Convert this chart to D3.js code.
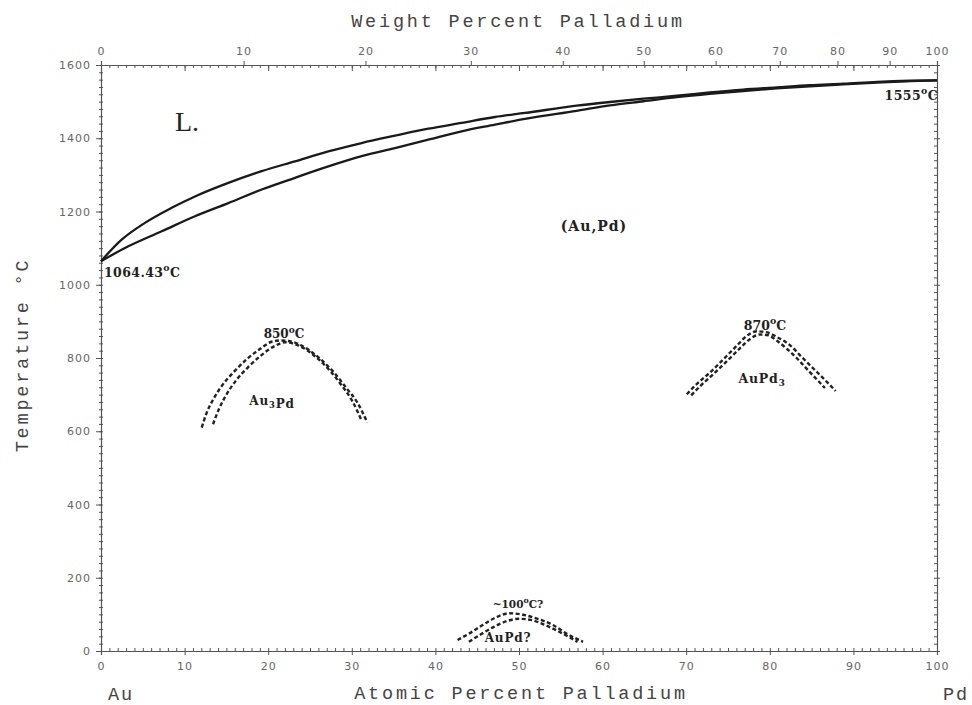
<!DOCTYPE html>
<html><head><meta charset="utf-8">
<script src="https://cdn.jsdelivr.net/npm/d3@7/dist/d3.min.js"></script>
<style>body{margin:0;background:#fff}</style></head>
<body>
<svg id="chart" width="972" height="705"></svg>
<script>
// ---- data (atomic % Pd, temperature °C) ----
const liquidusX = [0,2.47,5.26,8.45,11.24,15.23,19.22,23.2,27.19,31.18,35.17,39.15,43.14,47.13,50.72,56.9,60.9,64.9,68.9,72.8,76.8,80.8,84.8,88.8,92.8,96.8,100];
const liquidusT = [1064.43,1123,1169,1210,1241,1278,1310,1337,1364,1387,1407,1426,1442,1458,1469,1489,1499,1508,1516,1525,1533,1539,1545,1549,1554,1557,1558];
const solidusX = [0,3.27,7.26,11.24,15.23,19.22,23.2,27.19,31.18,35.17,39.15,43.14,47.13,50.72,56.9,60.9,64.9,68.9,72.8,76.8,80.8,84.8,88.8,92.8,96.8,100];
const solidusT = [1064.43,1105,1146,1187,1223,1260,1292,1323,1351,1373,1396,1419,1437,1453,1475,1490,1501,1512,1521,1529,1536,1542,1547,1552,1556,1558];

const au3pdOuterX = [12.05,12.65,13.45,14.45,15.85,17.45,19.05,20.25,21.45,23.05,24.65,26.25,27.85,29.45,30.65,31.85];
const au3pdOuterT = [610,651,688,724,761,797,825,843,848,843,825,797,761,715,679,624];
const au3pdInnerX = [13.4,14.1,15.0,16.2,17.6,19.2,20.8,22.0,23.2,24.6,26.0,27.4,28.8,30.0,31.2];
const au3pdInnerT = [619,660,700,740,775,808,833,843,838,822,797,765,725,685,628];

const aupd3OuterX = [70.07,71.27,72.87,74.47,76.07,77.27,78.47,79.67,80.87,82.47,83.67,85.27,86.47,87.87];
const aupd3OuterT = [701,729,761,797,834,861,873,870,857,834,806,770,743,710];
const aupd3InnerX = [70.6,71.8,73.3,74.9,76.5,77.7,78.8,79.8,80.8,82.0,83.2,84.6,85.6,86.6];
const aupd3InnerT = [698,726,757,792,828,853,864,862,848,826,800,766,742,718];

const aupdOuterX = [42.65,44.06,45.66,47.26,48.86,50.46,52.06,54.06,55.66,57.66];
const aupdOuterT = [30,48,71,92,103,99,89,71,48,25];
const aupdInnerX = [44.0,45.4,47.0,48.6,50.0,51.4,53.0,54.6,56.0,57.0];
const aupdInnerT = [25,45,66,82,88,85,72,55,38,25];

const atomicTicks = [0,10,20,30,40,50,60,70,80,90,100];
const weightTicks = [0,10,20,30,40,50,60,70,80,90,100];
const tempTicks = [0,200,400,600,800,1000,1200,1400,1600];

const M_AU = 196.97, M_PD = 106.42;
function wtToAt(w){ if(w<=0) return 0; if(w>=100) return 100; const a=w/M_PD, b=(100-w)/M_AU; return 100*a/(a+b); }

// ---- layout ----
const svg = d3.select("#chart");
const x = d3.scaleLinear().domain([0,100]).range([101,937]);
const y = d3.scaleLinear().domain([0,1600]).range([651,65]);
const axisColor = "#555";
const labelFont = "'DejaVu Sans', sans-serif";
const titleFont = "'Liberation Mono', 'DejaVu Sans Mono', monospace";
const annFont = "'DejaVu Serif', serif";

function styleAxis(g){
  g.selectAll("path.domain").attr("stroke",axisColor).attr("stroke-width",1.2);
  g.selectAll(".tick line").attr("stroke",axisColor).attr("stroke-width",1);
  g.selectAll(".tick text").attr("fill","#666").attr("font-family",labelFont).attr("font-size",11).attr("letter-spacing",1);
}

// bottom axis (atomic)
const gb = svg.append("g").attr("transform",`translate(0,${y(0)})`)
  .call(d3.axisBottom(x).tickValues(atomicTicks).tickSize(4).tickPadding(7).tickFormat(d3.format("d")));
styleAxis(gb);
const gbm = svg.append("g").attr("transform",`translate(0,${y(0)})`)
  .call(d3.axisTop(x).tickValues(d3.range(0,101,1)).tickSize(3).tickFormat(""));
gbm.select("path.domain").remove(); styleAxis(gbm);

// top axis (weight labels; atomic inward ticks)
const gt = svg.append("g").attr("transform",`translate(0,${y(1600)})`)
  .call(d3.axisTop(x).tickValues(weightTicks.map(wtToAt)).tickSize(4).tickPadding(6)
    .tickFormat((d,i)=>weightTicks[i]));
styleAxis(gt);
const gtm = svg.append("g").attr("transform",`translate(0,${y(1600)})`)
  .call(d3.axisBottom(x).tickValues(d3.range(0,101,1)).tickSize(3).tickFormat(""));
gtm.select("path.domain").remove(); styleAxis(gtm);
const gtM = svg.append("g").attr("transform",`translate(0,${y(1600)})`)
  .call(d3.axisBottom(x).tickValues(atomicTicks).tickSize(6).tickFormat(""));
gtM.select("path.domain").remove(); styleAxis(gtM);

// left axis
const gl = svg.append("g").attr("transform",`translate(${x(0)},0)`)
  .call(d3.axisLeft(y).tickValues(tempTicks).tickSize(5).tickPadding(5).tickFormat(d3.format("d")));
styleAxis(gl);
const glm1 = svg.append("g").attr("transform",`translate(${x(0)},0)`)
  .call(d3.axisLeft(y).tickValues(d3.range(0,1601,20)).tickSize(2).tickFormat(""));
glm1.select("path.domain").remove(); styleAxis(glm1);
const glm2 = svg.append("g").attr("transform",`translate(${x(0)},0)`)
  .call(d3.axisRight(y).tickValues(d3.range(0,1601,20)).tickSize(2).tickFormat(""));
glm2.select("path.domain").remove(); styleAxis(glm2);

// right axis
const gr = svg.append("g").attr("transform",`translate(${x(100)},0)`)
  .call(d3.axisLeft(y).tickValues(d3.range(0,1601,20)).tickSize(3).tickFormat(""));
styleAxis(gr);
const grM = svg.append("g").attr("transform",`translate(${x(100)},0)`)
  .call(d3.axisRight(y).tickValues(tempTicks).tickSize(3).tickFormat(""));
grM.select("path.domain").remove(); styleAxis(grM);

// ---- curves ----
const line = d3.line().x(d=>x(d[0])).y(d=>y(d[1])).curve(d3.curveMonotoneX);
function pts(xs,ts){ return xs.map((v,i)=>[v,ts[i]]); }

svg.append("path").attr("d",line(pts(liquidusX,liquidusT)))
  .attr("fill","none").attr("stroke","#1a1a1a").attr("stroke-width",2.3);
svg.append("path").attr("d",line(pts(solidusX,solidusT)))
  .attr("fill","none").attr("stroke","#1a1a1a").attr("stroke-width",2.3);

const domes = [
  [au3pdOuterX,au3pdOuterT],[au3pdInnerX,au3pdInnerT],
  [aupd3OuterX,aupd3OuterT],[aupd3InnerX,aupd3InnerT],
  [aupdOuterX,aupdOuterT],[aupdInnerX,aupdInnerT]
];
domes.forEach(([xs,ts])=>{
  svg.append("path").attr("d",line(pts(xs,ts)))
    .attr("fill","none").attr("stroke","#222").attr("stroke-width",2.4)
    .attr("stroke-dasharray","4,2.5");
});

// ---- titles ----
svg.append("text").attr("x",518).attr("y",27).attr("text-anchor","middle")
  .attr("font-family",titleFont).attr("font-size",18.5).attr("letter-spacing",2.8)
  .attr("fill","#444").text("Weight Percent Palladium");
svg.append("text").attr("x",521).attr("y",699).attr("text-anchor","middle")
  .attr("font-family",titleFont).attr("font-size",18.5).attr("letter-spacing",2.8)
  .attr("fill","#444").text("Atomic Percent Palladium");
svg.append("text").attr("transform","translate(28,355) rotate(-90)").attr("text-anchor","middle")
  .attr("font-family",titleFont).attr("font-size",18.5).attr("letter-spacing",2.8)
  .attr("fill","#444").text("Temperature °C");
svg.append("text").attr("x",108).attr("y",700)
  .attr("font-family",titleFont).attr("font-size",18.5).attr("letter-spacing",2)
  .attr("fill","#444").text("Au");
svg.append("text").attr("x",943).attr("y",700)
  .attr("font-family",titleFont).attr("font-size",18.5).attr("letter-spacing",2)
  .attr("fill","#444").text("Pd");

// ---- annotations ----
svg.append("text").attr("x",175).attr("y",131)
  .attr("font-family","'Liberation Serif', serif").attr("font-size",28)
  .attr("fill","#222").text("L.");

function degLabel(xp,yp,num,size,anchor){
  const t = svg.append("text").attr("x",xp).attr("y",yp).attr("text-anchor",anchor||"start")
    .attr("font-family",annFont).attr("font-weight","bold").attr("font-size",size)
    .attr("fill","#222");
  t.append("tspan").text(num);
  t.append("tspan").attr("dy",-size*0.45).attr("font-size",size*0.75).text("o");
  t.append("tspan").attr("dy",size*0.45).text("C");
  return t;
}
degLabel(104,277,"1064.43",12.5).attr("letter-spacing",0.4);
degLabel(938,100,"1555",12.5,"end").attr("letter-spacing",0.4);
degLabel(284,338,"850",12,"middle");
degLabel(765,330,"870",12.5,"middle");
const t100 = degLabel(518,608,"~100",10.5,"middle");
t100.append("tspan").text("?");

svg.append("text").attr("x",594).attr("y",231).attr("text-anchor","middle")
  .attr("font-family",annFont).attr("font-weight","bold").attr("font-size",14)
  .attr("letter-spacing",1).attr("fill","#222").text("(Au,Pd)");

function phaseLabel(xp,yp,parts,size){
  const t = svg.append("text").attr("x",xp).attr("y",yp).attr("text-anchor","middle")
    .attr("font-family",annFont).attr("font-weight","bold").attr("font-size",size)
    .attr("letter-spacing",0.8).attr("fill","#222");
  parts.forEach(p=>{
    if(p.sub){ t.append("tspan").attr("dy",3).attr("font-size",size*0.7).text(p.t);
      t.append("tspan").attr("dy",-3).text(""); }
    else t.append("tspan").text(p.t);
  });
  return t;
}
phaseLabel(272,405,[{t:"Au"},{t:"3",sub:true},{t:"Pd"}],12);
phaseLabel(762,383,[{t:"AuPd"},{t:"3",sub:true}],12.5);
phaseLabel(508,642,[{t:"AuPd?"}],12);
</script>
</body></html>
